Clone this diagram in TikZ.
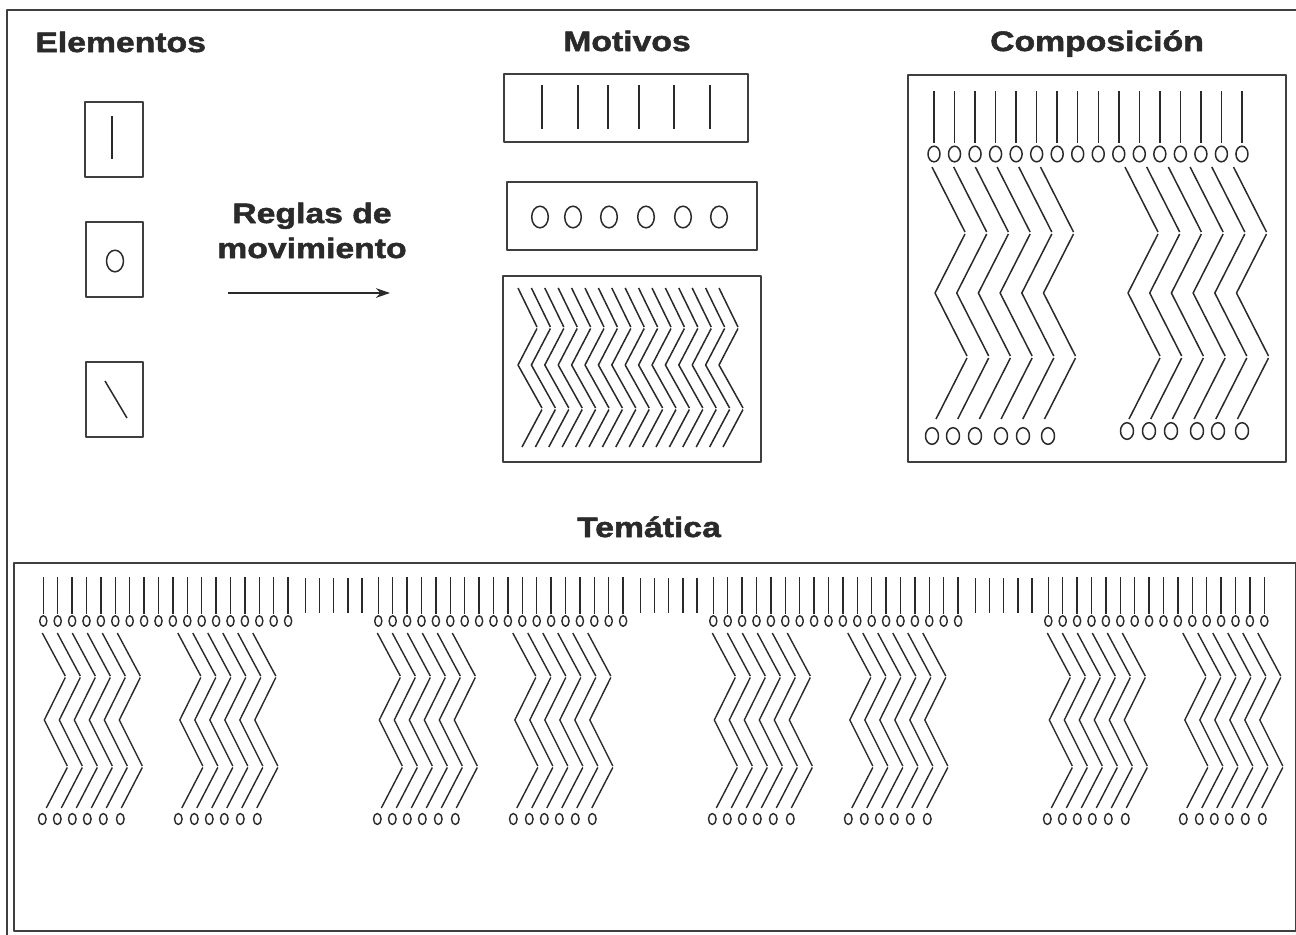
\documentclass[tikz,border=0pt]{standalone}
\usepackage{fontspec}
\setmainfont{Liberation Sans}
\newfontfamily\hd[FakeStretch=1.2,FakeBold=1.8]{Liberation Sans}
\usetikzlibrary{arrows.meta}
\definecolor{ink}{HTML}{2A2A2A}
\begin{document}
\begin{tikzpicture}[x=0.02cm,y=-0.02cm,line join=round]
\tikzset{
  title/.style={font=\hd\bfseries\fontsize{16}{19}\selectfont, text=ink, inner sep=0pt, anchor=base},
  frame/.style={draw=ink!90, line width=1.1pt},
  ln/.style={draw=ink, line width=0.85pt},
  tln/.style={draw=ink, line width=0.8pt},
  zzc/.pic={\draw[ln] (0,0)--(33,65); \draw[ln] (33,67)--(3,126)--(35,189); \draw[ln] (35,191)--(4,252);},
  zzt/.pic={\draw[tln] (0,0)--(23,43); \draw[tln] (23,44.5)--(2,87)--(25,133); \draw[tln] (25,134.5)--(4,175);},
  zzm/.pic={\draw[ln] (0,0)--(19,39); \draw[ln] (19,40.5)--(0,77)--(24,120); \draw[ln] (24,121.5)--(4,159);}
}
\useasboundingbox (0,0) rectangle (1296,934);
\clip (0,0) rectangle (1296,934);
\fill[white] (0,0) rectangle (1296,934);

% outer frame and Tematica box
\draw[frame] (7,945) -- (7,10) -- (1310,10);
\draw[frame] (14,563) rectangle (1296,931);

% titles
\node[title, anchor=base west] (el) at (35,52) {Elementos};
\node[title] (mo) at (627,51) {Motivos};
\node[title] (co) at (1097,51) {Composición};
\node[title] (te) at (649,537) {Temática};
\node[title] (r1) at (312,223) {Reglas de};
\node[title] (r2) at (312,258) {movimiento};

% arrow
\coordinate (a1) at (228,293);
\coordinate (a2) at (390,293);
\draw[ln, -{Stealth[length=8pt,width=5.5pt]}] (a1) -- (a2);

% Elementos
\draw[frame] (85,102) rectangle (143,177);
\draw[ln] (112,116) -- (112,159);
\draw[frame] (86,222) rectangle (143,297);
\draw[ln] (115,261) ellipse [x radius=8.5, y radius=10.8];
\draw[frame] (86,362) rectangle (143,437);
\draw[ln] (105,381) -- (127,418);

% Motivos
\draw[frame] (504,74) rectangle (748,142);
\foreach \x in {542,578,608,639,674,710} \draw[ln] (\x,85) -- (\x,129);
\draw[frame] (507,182) rectangle (757,250);
\foreach \x in {540,573,609,646,683,719} \draw[ln] (\x,217) ellipse [x radius=8.3, y radius=10.8];
\draw[frame] (503,276) rectangle (761,462);
\foreach \k in {0,...,15} \pic at ({518+13.4*\k},288) {zzm};

% Composicion
\draw[frame] (908,75) rectangle (1286,462);
\foreach \k in {0,...,15} {
  \draw[ln] ({934+20.53*\k},91) -- ({934+20.53*\k},143);
  \draw[ln] ({934+20.53*\k},154) ellipse [x radius=6, y radius=7.8];
}
\foreach \k in {0,...,5} {
  \pic at ({932+21.7*\k},167) {zzc};
  \pic at ({1125+21.7*\k},167) {zzc};
}
\foreach \x in {932,953,975,1001,1023,1048} \draw[ln] (\x,436) ellipse [x radius=6.5, y radius=8.3];
\foreach \x in {1127,1149,1171,1197,1218,1242} \draw[ln] (\x,431) ellipse [x radius=6.5, y radius=8.3];

% Tematica
\foreach \g/\n/\b in {43.3/17/1, 378.3/17/1, 713.3/17/1, 1048.3/15/0} {
  \foreach \k in {0,...,\n} {
    \draw[tln] ({\g+14.4*\k},577) -- ({\g+14.4*\k},614);
    \draw[tln] ({\g+14.4*\k},621) ellipse [x radius=3.6, y radius=5.3];
  }
  \ifnum\b=1
    \foreach \j in {0,...,4} \draw[tln] ({\g+262+14.2*\j},578) -- ({\g+262+14.2*\j},613);
  \fi
  \foreach \k in {0,...,5} {
    \pic at ({\g-1+15*\k},633) {zzt};
    \pic at ({\g+134.5+15*\k},633) {zzt};
  }
  \foreach \d in {-1,14,29,44,60,77,135,151,166,181,197,214}
    \draw[tln] ({\g+\d},819) ellipse [x radius=3.8, y radius=5.5];
}
\end{tikzpicture}
\end{document}
